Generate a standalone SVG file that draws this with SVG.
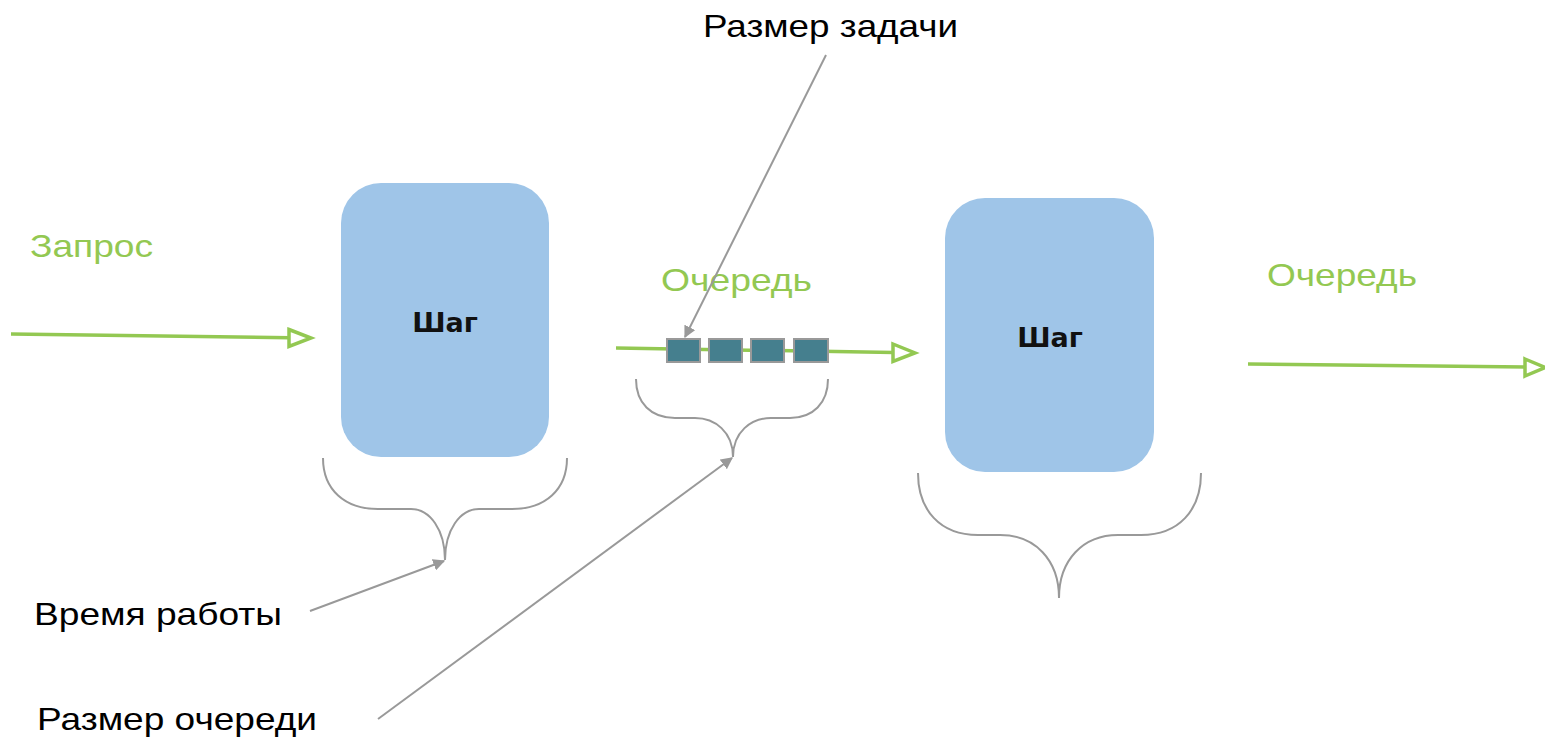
<svg xmlns="http://www.w3.org/2000/svg" width="1545" height="741" viewBox="0 0 1545 741">
<style>
.lbl{font-family:"Liberation Sans",Arial,sans-serif;font-size:32px;fill:#000}
.glbl{font-family:"Liberation Sans",Arial,sans-serif;font-size:32px;fill:#93c852}
.step{fill:#9fc5e8}
.steptxt{font-family:"DejaVu Sans",Verdana,sans-serif;font-size:27px;font-weight:bold;fill:#111;text-anchor:middle}
.flow{stroke:#93c852;stroke-width:3.5;fill:none}
.brace{stroke:#999;stroke-width:2;fill:none}
.ptr{stroke:#999;stroke-width:2;fill:none}
.task{fill:#457f8e;stroke:#999;stroke-width:2}
</style>
<defs>
<marker id="grey" viewBox="0 0 10 10" refX="9" refY="5" markerWidth="12" markerHeight="12" markerUnits="userSpaceOnUse" orient="auto">
<path d="M0,0 L10,5 L0,10 Z" fill="#999"/>
</marker>
</defs>
<g id="labels">
<text class="lbl" x="703" y="37" textLength="255" lengthAdjust="spacingAndGlyphs">Размер задачи</text>
<text class="glbl" x="30" y="257" textLength="123" lengthAdjust="spacingAndGlyphs">Запрос</text>
<text class="glbl" x="661" y="291" textLength="151" lengthAdjust="spacingAndGlyphs">Очередь</text>
<text class="glbl" x="1267" y="286" textLength="150" lengthAdjust="spacingAndGlyphs">Очередь</text>
<text class="lbl" x="34" y="625" textLength="248" lengthAdjust="spacingAndGlyphs">Время работы</text>
<text class="lbl" x="37" y="730" textLength="280" lengthAdjust="spacingAndGlyphs">Размер очереди</text>
</g>
<g id="step1">
<rect class="step" x="341" y="183" width="208" height="274" rx="40"/>
<text class="steptxt" x="445" y="332">Шаг</text>
</g>
<g id="step2">
<rect class="step" x="945" y="198" width="209" height="274" rx="40"/>
<text class="steptxt" x="1050" y="347">Шаг</text>
</g>
<g id="connectors">
<line class="flow" x1="11" y1="334" x2="290" y2="337.7"/>
<path d="M289,329.5 L311,338 L289,346.5 Z" fill="#fff" stroke="#93c852" stroke-width="3.5"/>
<line class="flow" x1="616" y1="348" x2="894" y2="352.5"/>
<path d="M893,344 L915,353 L893,361.5 Z" fill="#fff" stroke="#93c852" stroke-width="3.5"/>
<line class="flow" x1="1248" y1="364" x2="1526" y2="367"/>
<path d="M1525,359 L1545,367.5 L1525,376 Z" fill="#fff" stroke="#93c852" stroke-width="3.5"/>
<g id="queue">
<rect class="task" x="667" y="339" width="33" height="23"/>
<rect class="task" x="709" y="339" width="33" height="23"/>
<rect class="task" x="751" y="339" width="33" height="23"/>
<rect class="task" x="794" y="339" width="34" height="23"/>
</g>
<path class="brace" d="M323,458 C323,490 345,509 378,509 L411,509 C430,509 445,530 445,560 C445,530 460,509 479,509 L512,509 C545,509 567,490 567,458"/>
<path class="brace" d="M636,379 C636,403 651,418 675,418 L695,418 C715,418 733,432 733,457 C733,432 751,418 771,418 L790,418 C813,418 828,403 828,379"/>
<path class="brace" d="M918,473 C918,510 940,535 978,535 L1000,535 C1035,535 1059,560 1059,598 C1059,560 1083,535 1118,535 L1141,535 C1179,535 1201,510 1201,473"/>
<line class="ptr" x1="826" y1="55" x2="685" y2="337" marker-end="url(#grey)"/>
<line class="ptr" x1="310" y1="611" x2="444" y2="561" marker-end="url(#grey)"/>
<line class="ptr" x1="378" y1="719" x2="732" y2="458" marker-end="url(#grey)"/>
</g>
</svg>
